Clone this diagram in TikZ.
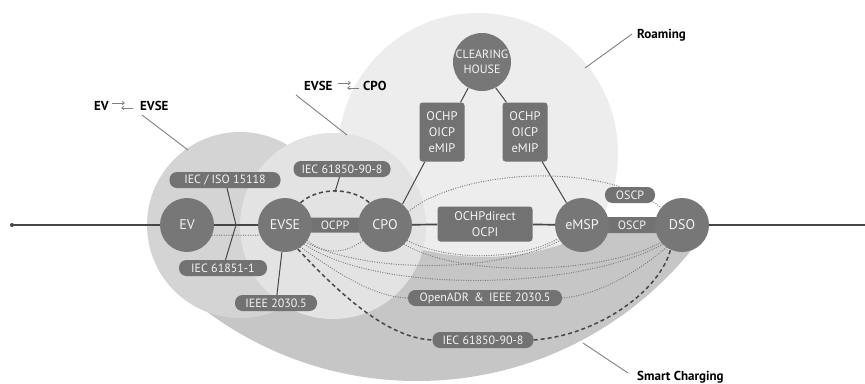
\documentclass[tikz,border=0pt]{standalone}
\usepackage{fontspec}
\setmainfont{PT Sans}
\usetikzlibrary{arrows.meta}
\pgfdeclarelayer{bubbles}
\pgfdeclarelayer{links}
\pgfsetlayers{bubbles,links,main}
\definecolor{hubgray}{HTML}{777777}
\definecolor{taggray}{HTML}{727272}
\definecolor{roamgray}{HTML}{EDEDED}
\definecolor{evgray}{HTML}{D4D4D4}
\definecolor{evsegray}{HTML}{E3E3E3}
\definecolor{smartgray}{HTML}{C6C6C6}
\definecolor{linegray}{HTML}{474747}
\definecolor{dotgray}{HTML}{7C7C7C}
\definecolor{inktext}{HTML}{F4F4F4}
\begin{document}
\begin{tikzpicture}[x=1pt,y=-1pt,
  hub/.style={circle, fill=hubgray, minimum size=54pt, inner sep=0pt, text=inktext, font=\fontsize{14}{14}\selectfont},
  tag/.style={rectangle, rounded corners=7.5pt, fill=taggray, minimum height=16pt, inner sep=0pt, text=inktext, font=\fontsize{12}{12}\selectfont},
  stack/.style={rectangle, rounded corners=3pt, fill=taggray, inner sep=0pt, text=inktext, align=center, font=\fontsize{12.5}{16}\selectfont},
  mainline/.style={draw=linegray, line width=1.7pt},
  solidlink/.style={draw=linegray, line width=1pt},
  dotlink/.style={draw=dotgray, line width=1.3pt, line cap=round, dash pattern=on 0pt off 2.4pt},
  dashlink/.style={draw=linegray, line width=1.5pt, dash pattern=on 4pt off 3pt},
  pointer/.style={draw=gray, line width=0.9pt},
  callout/.style={font=\bfseries\fontsize{13}{13}\selectfont, text=black, inner sep=0pt, anchor=west},
  sym/.style={draw=gray, line width=0.8pt, -{Straight Barb[length=2.2pt,width=3.2pt]}}
]
\useasboundingbox (0,0) rectangle (865,383);

% background zones
\begin{pgfonlayer}{bubbles}
  \fill[roamgray] (478,153) circle[radius=140pt];
  \begin{scope}
    \clip (190,224) rectangle (865,400);
    \fill[smartgray, even odd rule] (417,28) circle[radius=353pt] (483,7) circle[radius=250pt];
  \end{scope}
  \fill[evgray] (240,225) circle[radius=93pt];
  \fill[evsegray] (333,226) circle[radius=93pt];
\end{pgfonlayer}

% protocol bars lying on the main line (ends hidden under the hubs)
\node[tag, minimum width=62pt, minimum height=15pt] (ocpp) at (335,225) {OCPP};
\node[tag, minimum width=62pt] (oscpA) at (632,225) {OSCP};

% actors
\node[hub] (EV)   at (187,225) {EV};
\node[hub] (EVSE) at (285,225) {EVSE};
\node[hub] (CPO)  at (385,225) {CPO};
\node[hub] (eMSP) at (582,225) {eMSP};
\node[hub] (DSO)  at (682,225) {DSO};
\node[hub, minimum size=58pt, align=center, font=\fontsize{12}{14.5}\selectfont] (CH) at (482,62) {CLEARING\\HOUSE};

% protocol boxes
\node[stack, minimum width=45pt, minimum height=59pt] (roamL) at (442,132) {OCHP\\OICP\\eMIP};
\node[stack, minimum width=45pt, minimum height=59pt] (roamR) at (525,132) {OCHP\\OICP\\eMIP};
\node[stack, minimum width=95pt, minimum height=35pt] (direct) at (485,224) {OCHPdirect\\OCPI};

% protocol tags
\node[tag, minimum width=111pt] (iso)   at (225,180) {IEC / ISO 15118};
\node[tag, minimum width=88pt]  (iec1)  at (223,268) {IEC 61851-1};
\node[tag, minimum width=82pt]  (ieee)  at (276,303) {IEEE 2030.5};
\node[tag, minimum width=97pt]  (iecA)  at (342,169) {IEC 61850-90-8};
\node[tag, minimum width=154pt] (adr)   at (485,298) {OpenADR \,\&\, IEEE 2030.5};
\node[tag, minimum width=101pt] (iecB)  at (483,340) {IEC 61850-90-8};
\node[tag, minimum width=50pt]  (oscpB) at (630,195) {OSCP};

\coordinate (lstart) at (12,225);
\coordinate (lend) at (865,225);
\coordinate (J) at (236,225);
\coordinate (arcmid) at (335,192);

\begin{pgfonlayer}{links}
  \draw[mainline] (lstart) -- (EV) -- (EVSE) -- (CPO) -- (direct) -- (eMSP) -- (DSO) -- (lend);
  \fill[linegray] (lstart) circle[radius=2pt];
  \draw[dotlink] (EV.-22) -- (EVSE.-158);
  \draw[solidlink] (iso) -- (J) -- (iec1);
  \draw[solidlink] (ieee) -- (EVSE);
  \draw[dashlink] (EVSE.55) .. controls (318,187) and (352,187) .. (CPO.125);
  \draw[solidlink] (iecA) -- (arcmid);
  \draw[solidlink] (CH.-118) -- (roamL.58);
  \draw[solidlink] (CH.-62) -- (roamR.122);
  \draw[solidlink] (roamL.-120) -- (CPO.50);
  \draw[solidlink] (roamR.-60) -- (eMSP.125);
  % OSCP path above the line
  \draw[dotlink] (CPO.30) .. controls (460,170) and (600,160) .. (DSO.140);
  % links below the line
  \draw[dotlink] (EVSE.-35) .. controls (325,255) and (345,254) .. (CPO.-145);
  \draw[dotlink] (EVSE.-40) .. controls (370,275) and (500,272) .. (eMSP.-145);
  \draw[dotlink] (EVSE.-45) .. controls (380,295) and (580,290) .. (DSO.-135);
  \draw[dotlink] (CPO.-35) .. controls (450,262) and (520,260) .. (eMSP.-150);
  \draw[dotlink] (CPO.-45) .. controls (460,278) and (600,275) .. (DSO.-140);
  \draw[dotlink] (EVSE.-55) .. controls (340,275) and (375,297) .. (adr.west);
  \draw[dotlink] (adr.east) .. controls (600,295) and (640,270) .. (DSO.-125);
  \draw[dashlink] (EVSE.-62) .. controls (345,300) and (390,338) .. (iecB.west);
  \draw[dashlink] (iecB.east) .. controls (600,335) and (660,290) .. (DSO.-115);
\end{pgfonlayer}

% callouts
\node[callout] (lblEV) at (94,106) {EV};
\node[callout] (lblEVSE) at (140,106) {EVSE};
\draw[sym] (112,103) -- (125,103);
\draw[sym] (133,108) -- (121,108);
\coordinate (ptrA) at (142,115);
\coordinate (tipA) at (188,150);
\draw[pointer] (ptrA) -- (tipA);

\node[callout] (lblEVSE2) at (304,86) {EVSE};
\node[callout] (lblCPO) at (363,86) {CPO};
\draw[sym] (338,83) -- (351,83);
\draw[sym] (359,88) -- (347,88);
\coordinate (ptrB) at (296,95);
\coordinate (tipB) at (347,135);
\draw[pointer] (ptrB) -- (tipB);

\node[callout] (lblRoam) at (637,35) {Roaming};
\coordinate (ptrC) at (632,34);
\coordinate (tipC) at (585,68);
\draw[pointer] (tipC) -- (ptrC);

\node[callout] (lblSmart) at (637,377) {Smart Charging};
\coordinate (ptrD) at (628,373);
\coordinate (tipD) at (583,343);
\draw[pointer] (tipD) -- (ptrD);
\end{tikzpicture}
\end{document}
